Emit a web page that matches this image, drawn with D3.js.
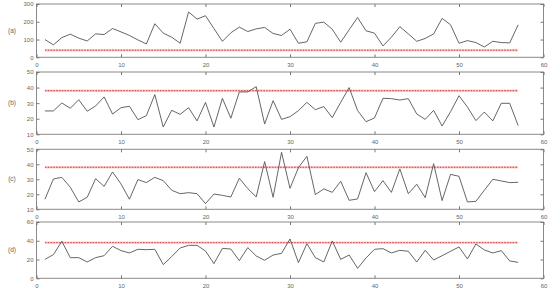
<!DOCTYPE html>
<html>
<head>
<meta charset="utf-8">
<script src="https://cdn.jsdelivr.net/npm/d3@7"></script>
<style>
  body { margin: 0; background: #fff; }
  .chart text { font-family: "Liberation Sans", Arial, sans-serif; fill: #666; }
</style>
</head>
<body>
<div class="chart"></div>
<script>
// sample index 1..57
const seriesA = [100, 70, 111, 130, 108, 92, 132, 128, 162, 143, 123, 98, 75, 189, 136, 113, 79, 255, 215, 234,
  162, 90, 138, 170, 145, 160, 168, 134, 123, 158, 79, 87, 191, 198, 158, 85, 155, 224, 149, 136,
  64, 113, 172, 132, 90, 106, 132, 219, 183, 79, 94, 83, 58, 90, 83, 81, 183];
const seriesB = [25, 25, 30.1, 26.7, 32.2, 24.8, 28.2, 34, 23, 27.1, 28, 19.4, 22, 35.5, 14.7, 25.4, 22.8, 27.1, 18.6, 30.5,
  14.7, 33.1, 20.3, 37.2, 37.2, 40.6, 16.6, 31.6, 19.6, 21.3, 25.2, 30.5, 25.8, 27.8, 20.7, 30.5, 40, 25.2, 18.1, 20.5,
  33.1, 32.9, 32, 32.9, 23, 19.6, 25.4, 15.3, 24.5, 34.8, 27.5, 18.8, 24.3, 18.6, 29.9, 29.9, 15.6];
const seriesC = [16.7, 30.2, 31.3, 24.7, 14.9, 18, 30.4, 25.3, 34.9, 26.9, 16.7, 29.8, 27.8, 31.3, 29.1, 22.7, 20.4, 21.1, 20.4, 13.8,
  20.2, 19.3, 18.2, 30.7, 23.8, 18.2, 41.8, 18, 48, 24, 37.8, 45.3, 19.8, 23.6, 21.3, 28.7, 16, 16.9, 34.4, 21.8,
  29.1, 21.3, 36.9, 20.4, 26.7, 17.8, 40.4, 15.8, 33.3, 32, 14.9, 15.3, 22.7, 30, 28.9, 27.8, 28];
const seriesD = [20.2, 25.2, 39.4, 22, 22, 17.4, 22, 24.1, 34.1, 29.5, 27, 30.9, 30.5, 30.9, 14.6, 23.1, 32.3, 35.1, 35.1, 29.1,
  15.6, 31.9, 31.2, 18.8, 32.7, 23.8, 19.2, 24.8, 26.6, 41.9, 16.7, 36.9, 22, 17.4, 39.8, 20.2, 24.8, 10.6, 21.7, 30.9,
  31.6, 27, 29.8, 28.8, 17.4, 29.8, 19.5, 24.1, 28.8, 33.4, 20.6, 36.6, 30.2, 27, 29.5, 18.5, 17];

const panelNames = ['(a)', '(b)', '(c)', '(d)'];
const thresholds = [40, 38, 38, 38];
const yDomains = [[0, 300], [10, 50], [10, 50], [0, 60]];
const yTicks = [[0, 100, 200, 300], [10, 20, 30, 40, 50], [10, 20, 30, 40, 50], [0, 20, 40, 60]];
const xTicks = [0, 10, 20, 30, 40, 50, 60];

let canvas = {
  svg: {},
  config: {
    svgW: 550,
    svgH: 289,
    left: 36.5,
    right: 543.5,
    // top / bottom of each panel frame
    frames: [[4, 57.3], [72, 134.3], [149.3, 209.3], [222, 278.3]],
    tick: 3
  },
  init: function () {
    this.svg = d3.select('.chart').append('svg')
      .attr('width', this.config.svgW)
      .attr('height', this.config.svgH);
    const all = [seriesA, seriesB, seriesC, seriesD];
    all.forEach((s, i) => this.panel(i, s));
  },
  panel: function (i, values) {
    const c = this.config;
    const [top, bottom] = c.frames[i];
    const x = d3.scaleLinear().domain([0, 60]).range([c.left, c.right]);
    const y = d3.scaleLinear().domain(yDomains[i]).range([bottom, top]);
    const g = this.svg.append('g').attr('class', 'panel');

    // 框
    g.append('rect')
      .attr('x', c.left).attr('y', top)
      .attr('width', c.right - c.left).attr('height', bottom - top)
      .attr('fill', 'none').attr('stroke', '#8a8a8a').attr('stroke-width', 1);

    // x 軸 (ticks inside, top and bottom)
    const xb = g.append('g').attr('transform', `translate(0,${bottom})`)
      .call(d3.axisBottom(x).tickValues(xTicks).tickSizeInner(-c.tick).tickSizeOuter(0).tickPadding(5));
    const xt = g.append('g').attr('transform', `translate(0,${top})`)
      .call(d3.axisTop(x).tickValues(xTicks).tickSizeInner(-c.tick).tickSizeOuter(0).tickFormat(''));
    // y 軸 (ticks inside, left and right)
    const yl = g.append('g').attr('transform', `translate(${c.left},0)`)
      .call(d3.axisLeft(y).tickValues(yTicks[i]).tickSizeInner(-c.tick).tickSizeOuter(0).tickPadding(3));
    const yr = g.append('g').attr('transform', `translate(${c.right},0)`)
      .call(d3.axisRight(y).tickValues(yTicks[i]).tickSizeInner(-c.tick).tickSizeOuter(0).tickFormat(''));
    [xb, xt, yl, yr].forEach(a => {
      a.select('.domain').remove();
      a.selectAll('line').attr('stroke', '#777');
      a.selectAll('text').attr('font-size', 6).attr('fill', '#666')
        .style('font-family', '"Liberation Sans", Arial, sans-serif');
    });

    // 門檻線
    const tLine = d3.line().x(d => x(d)).y(() => y(thresholds[i]));
    g.append('path').datum([1, 57])
      .attr('d', tLine).attr('fill', 'none')
      .attr('stroke', '#f9cccc').attr('stroke-width', 2.4);
    g.append('path').datum([1, 57])
      .attr('d', tLine).attr('fill', 'none')
      .attr('stroke', '#dd2a2a').attr('stroke-width', 0.9)
      .attr('stroke-dasharray', '1.6,1.2');

    // 資料線
    const line = d3.line().x((d, k) => x(k + 1)).y(d => y(d));
    g.append('path').datum(values)
      .attr('d', line).attr('fill', 'none')
      .attr('stroke', '#555').attr('stroke-width', 0.9);

    // 標籤
    g.append('text')
      .attr('x', 12).attr('y', (top + bottom) / 2 + 2)
      .attr('text-anchor', 'middle')
      .attr('font-size', 6.5)
      .text(panelNames[i]);
  }
};

canvas.init();
</script>
</body>
</html>
